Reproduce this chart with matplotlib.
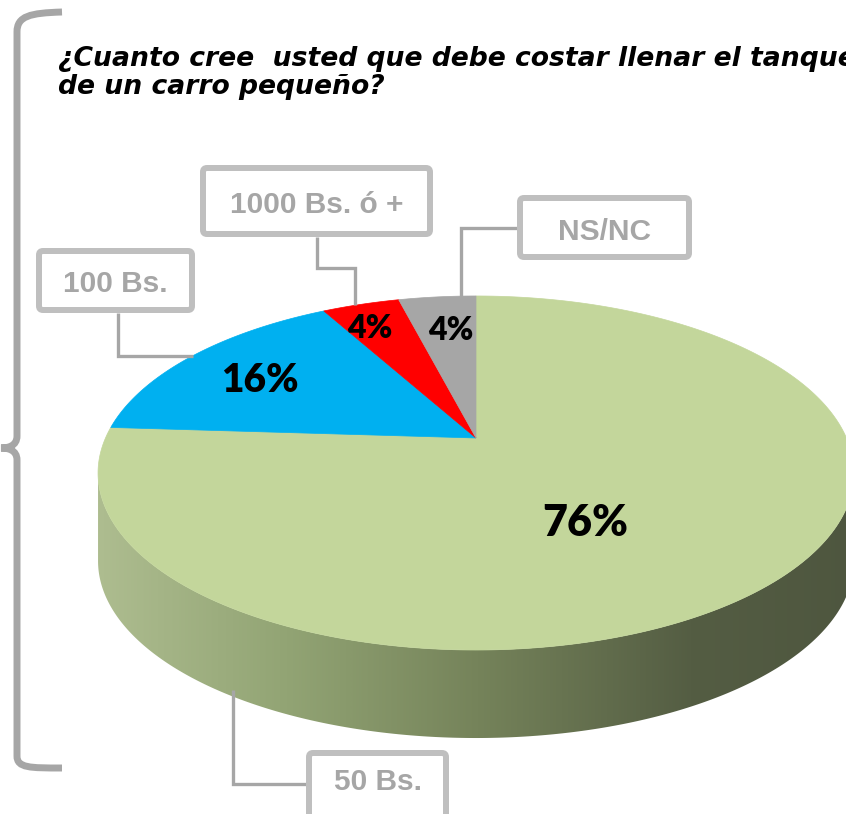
import numpy as np
import matplotlib
matplotlib.use("Agg")
import matplotlib.pyplot as plt
from matplotlib.patches import Polygon, FancyBboxPatch, PathPatch
from matplotlib.path import Path
from matplotlib.colors import LinearSegmentedColormap

# ---------------- data ----------------
categories = ['50 Bs.', '100 Bs.', '1000 Bs. ó +', 'NS/NC']
values = [76, 16, 4, 4]
pct_labels = ['76%', '16%', '4%', '4%']
colors = ['#c3d69b', '#00b0f0', '#ff0000', '#a6a6a6']
title = '¿Cuanto cree  usted que debe costar llenar el tanque\nde un carro pequeño?'

# ---------------- layout (pixel space) ----------------
W, H = 846, 814
fig = plt.figure(figsize=(W / 100, H / 100), dpi=100)
ax = fig.add_axes([0, 0, 1, 1])
ax.set_xlim(0, W)
ax.set_ylim(H, 0)
ax.axis('off')

CX, CY = 476, 438          # apex of pie on screen
A, B, K = 370.5, 170.1, 0.1977  # perspective projection params
DEPTH = 88


def proj(theta_deg, r=1.0):
    t = np.radians(theta_deg)
    x, y = r * np.cos(t), r * np.sin(t)
    w = 1 + K * y
    return CX + A * x / w, CY - B * y / w


# ---- side (extrusion) of the front part with gradient ----
tmin = 180 + np.degrees(np.arcsin(K))
tmax = 360 - np.degrees(np.arcsin(K))
ts = np.linspace(tmin, tmax, 300)
sx, sy = proj(ts)
side_pts = np.concatenate([np.column_stack([sx, sy]),
                           np.column_stack([sx[::-1], sy[::-1] + DEPTH])])
side_poly = Polygon(side_pts, closed=True, facecolor='none', edgecolor='none')
ax.add_patch(side_poly)
grad_cmap = LinearSegmentedColormap.from_list(
    'side', [(0.0, '#aebd90'), (0.25, '#92a474'), (0.5, '#75835a'),
             (0.78, '#545d43'), (1.0, '#4e563f')])
grad = np.linspace(0, 1, 512)[None, :]
im = ax.imshow(grad, cmap=grad_cmap, extent=[95, 860, 780, 440],
               aspect='auto', zorder=1, interpolation='bilinear')
im.set_clip_path(side_poly)

# ---- top slices ----
start = 90.0
total = float(sum(values))
for v, c in zip(values, colors):
    span = 360.0 * v / total
    th = np.linspace(start, start - span, max(int(span * 3), 10))
    px, py = proj(th)
    pts = np.vstack([[CX, CY], np.column_stack([px, py])])
    ax.add_patch(Polygon(pts, closed=True, facecolor=c, edgecolor=c,
                         linewidth=0.5, zorder=2))
    start -= span

# ---- percentage labels ----
pct_pos = [(585, 523), (260, 381), (370, 328), (451, 331)]
pct_size = [31, 28, 23, 23]
for lab, (x, y), fs in zip(pct_labels, pct_pos, pct_size):
    ax.text(x, y, lab, fontsize=fs, fontweight='heavy', family=['Lato', 'DejaVu Sans'],
            color='black', ha='center', va='center', zorder=5)

# ---- category label boxes + leader lines ----
box_col = '#bfbfbf'
lead_col = '#a6a6a6'
boxes = {
    '50 Bs.': (309, 753, 446, 818),
    '100 Bs.': (39, 251, 192, 310),
    '1000 Bs. ó +': (203, 168, 430, 234),
    'NS/NC': (520, 198, 689, 257),
}
leaders = {
    '50 Bs.': [(233, 690), (233, 784), (306, 784)],
    '100 Bs.': [(118, 313), (118, 356), (193, 356)],
    '1000 Bs. ó +': [(317, 237), (317, 268), (355, 268), (355, 305)],
    'NS/NC': [(517, 228), (461, 228), (461, 297)],
}
for cat in categories:
    x0, y0, x1, y1 = boxes[cat]
    ax.add_patch(FancyBboxPatch((x0, y0), x1 - x0, y1 - y0,
                                boxstyle='round,pad=0,rounding_size=4',
                                facecolor='white', edgecolor=box_col,
                                linewidth=4.3, zorder=4))
    ax.text((x0 + x1) / 2, (y0 + min(y1, 810)) / 2 + (4 if cat != '50 Bs.' else 0),
            cat, fontsize=21.5, fontweight='bold',
            family=['Liberation Sans', 'DejaVu Sans'], color='#a6a6a6',
            ha='center', va='center', zorder=5)
    lp = np.array(leaders[cat])
    ax.plot(lp[:, 0], lp[:, 1], color=lead_col, linewidth=2.4, zorder=3,
            solid_joinstyle='miter', solid_capstyle='butt')

# ---- left bracket ----
verts = [(62, 12), (30, 13), (17, 16), (17, 32),
         (17, 436),
         (17, 446), (8, 448), (1, 448),
         (8, 448), (17, 450), (17, 460),
         (17, 756),
         (17, 768), (30, 768), (62, 768)]
codes = [Path.MOVETO, Path.CURVE4, Path.CURVE4, Path.CURVE4,
         Path.LINETO,
         Path.CURVE4, Path.CURVE4, Path.CURVE4,
         Path.CURVE4, Path.CURVE4, Path.CURVE4,
         Path.LINETO,
         Path.CURVE4, Path.CURVE4, Path.CURVE4]
ax.add_patch(PathPatch(Path(verts, codes), facecolor='none', edgecolor='#a6a6a6',
                       linewidth=5, zorder=3))

# ---- title ----
ax.text(58, 94, title, fontsize=19.2, fontweight='bold', fontstyle='italic',
        family=['DejaVu Sans'], color='black', ha='left', va='baseline',
        linespacing=1.12, zorder=5)

fig.savefig('out.png', dpi=100)
